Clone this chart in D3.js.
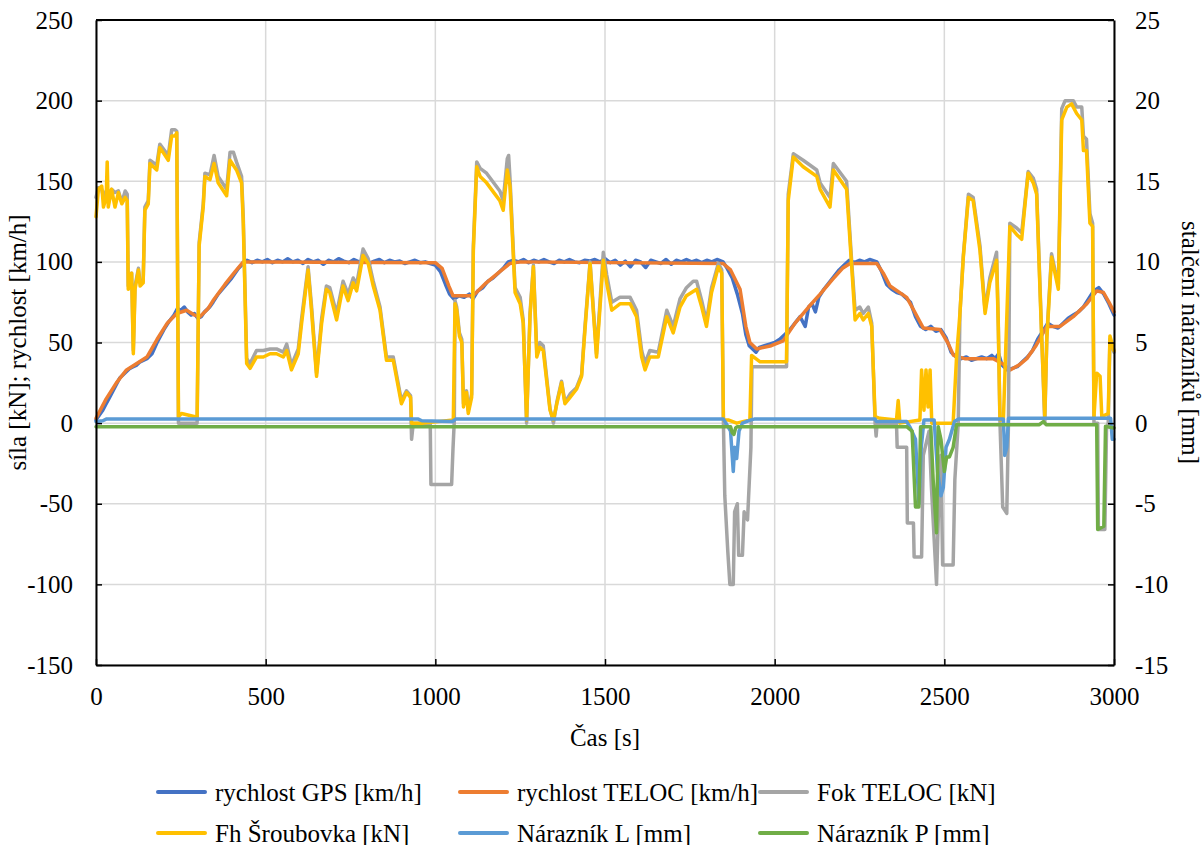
<!DOCTYPE html>
<html>
<head>
<meta charset="utf-8">
<script src="https://cdn.jsdelivr.net/npm/d3@7"></script>
<style>
html,body{margin:0;padding:0;background:#fff;}
svg{display:block;}
text{font-family:"Liberation Serif","Times New Roman",serif;fill:#000;}
</style>
</head>
<body>
<svg id="chart" width="1202" height="845"></svg>
<script>
// ---------- DATA (time [s], value) ----------
const xTicks = [0, 500, 1000, 1500, 2000, 2500, 3000];
const yLeftTicks = [-150, -100, -50, 0, 50, 100, 150, 200, 250];
const yRightTicks = [-15, -10, -5, 0, 5, 10, 15, 20, 25];

const seriesNames = ["rychlost GPS [km/h]", "rychlost TELOC [km/h]", "Fok TELOC [kN]",
                     "Fh Šroubovka [kN]", "Nárazník L [mm]", "Nárazník P [mm]"];
const seriesColors = ["#4472C4", "#ED7D31", "#A5A5A5", "#FFC000", "#5B9BD5", "#70AD47"];

const rychlostGPS = [[0,2],[10,5],[20,8],[30,12],[40,16],[50,20],[60,24],[70,28],[80,30],[90,32],[100,34],[110,35],[120,36],[130,38],[150,40],[165,43],[180,50],[200,58],[215,63],[230,67],[240,71],[250,70],[260,72],[270,69],[280,67],[290,68],[300,65],[310,66],[320,69],[335,72],[345,75],[360,80],[380,85],[400,90],[420,96],[434,99],[445,101],[460,99.5],[475,101],[490,100],[505,101.5],[520,99.5],[535,101],[550,100],[565,102],[580,100],[595,101],[610,99],[625,101.5],[640,100],[655,101],[670,98.5],[685,101],[700,100],[715,102],[730,100.5],[745,99.5],[760,101.5],[775,100],[790,101],[805,99],[820,100.5],[835,101.5],[850,99.5],[865,101],[880,100],[895,100.5],[910,99],[925,100],[940,101],[955,99.5],[970,100],[985,99],[1000,98],[1015,94],[1030,86],[1042,80],[1055,77],[1070,79],[1085,78],[1100,80],[1111,77],[1125,82],[1140,84],[1155,88],[1170,90],[1185,93],[1200,96],[1215,100],[1230,101],[1245,100],[1260,101.5],[1275,99.5],[1290,101],[1305,100],[1320,101.5],[1335,100],[1350,99],[1365,101],[1380,100],[1395,101.5],[1410,100],[1425,99.5],[1440,101],[1455,100.5],[1470,101.5],[1485,100],[1500,102],[1515,99.5],[1530,101],[1545,98],[1560,100.5],[1575,97],[1590,101],[1605,100],[1620,96.5],[1635,101],[1650,100],[1665,99],[1680,101.5],[1695,98.5],[1710,101],[1725,100],[1740,101.5],[1755,100],[1770,101],[1785,99.5],[1800,101],[1815,100],[1830,101.5],[1848,100],[1860,96],[1875,90],[1890,80],[1905,68],[1915,55],[1925,48],[1935,46],[1945,44],[1955,47],[1970,48],[1985,49],[2000,50],[2015,52],[2030,55],[2045,58],[2060,62],[2075,66],[2090,60],[2100,72],[2110,74],[2120,69],[2130,78],[2145,83],[2160,87],[2175,91],[2190,95],[2205,98],[2220,101],[2235,99.5],[2250,101],[2265,100],[2280,101.5],[2301,100],[2315,94],[2330,86],[2345,83],[2360,81],[2375,80],[2390,77],[2400,75],[2415,66],[2430,60],[2445,58],[2460,60],[2475,57],[2490,58],[2505,53],[2520,44],[2535,41],[2550,40],[2565,41],[2580,39],[2595,40],[2610,41],[2625,40],[2640,42],[2650,40],[2660,43],[2670,36],[2685,33],[2700,34],[2715,35],[2730,38],[2745,41],[2760,45],[2775,52],[2790,57],[2805,62],[2820,60],[2835,59],[2850,62],[2865,65],[2880,67],[2895,69],[2910,72],[2925,77],[2940,82],[2955,84],[2970,80],[2985,74],[3000,67]];

const rychlostTELOC = [[0,3],[30,15],[60,25],[90,33],[120,37],[150,41],[180,52],[210,62],[238,68],[267,70],[290,67],[306,66],[330,71],[345,76],[380,86],[410,94],[434,100],[500,100],[1000,99.5],[1020,96],[1040,85],[1052,79],[1080,79],[1111,79],[1150,87],[1190,94],[1220,99],[1250,100],[1848,99],[1870,95],[1898,83],[1915,60],[1927,50],[1947,46],[1990,48],[2025,51],[2060,62],[2100,72],[2134,80],[2170,89],[2200,96],[2222,99],[2301,99],[2320,93],[2340,85],[2389,78],[2410,70],[2438,59],[2487,58],[2510,50],[2527,42],[2560,40],[2644,40],[2670,37],[2694,33],[2720,36],[2743,40],[2770,48],[2802,60],[2841,60],[2880,66],[2920,74],[2949,82],[2969,81],[2985,75],[3000,69]];

const fokTELOC = [[0,140],[7,146],[17,145],[22,140],[30,144],[36,142],[46,145],[56,143],[66,144],[76,137],[86,144],[92,142],[95,85],[105,93],[110,45],[115,85],[125,96],[130,87],[139,88],[144,134],[154,138],[159,163],[179,160],[188,173],[213,166],[223,182],[233,182],[238,181],[243,0],[298,0],[304,112],[316,136],[321,155],[336,154],[348,166],[360,153],[385,145],[395,168],[405,168],[414,162],[429,153],[434,128],[444,40],[454,37],[473,45],[493,45],[513,46],[532,46],[552,44],[562,49],[576,36],[596,46],[606,65],[625,97],[635,73],[650,31],[665,65],[679,85],[689,84],[709,68],[728,88],[743,80],[758,90],[768,86],[787,108],[802,102],[817,88],[837,72],[856,41],[876,41],[900,14],[915,20],[927,17],[930,-10],[935,0],[985,0],[987,-38],[1048,-38],[1052,-16],[1056,2],[1058,76],[1063,72],[1071,56],[1078,52],[1083,12],[1092,20],[1097,8],[1107,18],[1112,110],[1122,162],[1132,158],[1151,155],[1190,144],[1200,138],[1212,164],[1216,166],[1220,152],[1235,84],[1250,78],[1259,64],[1269,0],[1279,68],[1289,98],[1299,44],[1308,50],[1318,48],[1338,9],[1348,0],[1358,13],[1372,26],[1382,13],[1397,18],[1416,22],[1431,30],[1441,60],[1456,100],[1466,70],[1475,43],[1495,106],[1505,92],[1520,75],[1544,78],[1574,78],[1593,70],[1608,45],[1618,37],[1632,45],[1657,44],[1682,70],[1701,60],[1721,77],[1740,84],[1760,88],[1770,88],[1785,76],[1799,63],[1814,84],[1834,99],[1844,95],[1849,0],[1853,-45],[1862,-80],[1868,-100],[1878,-100],[1882,-55],[1890,-50],[1894,-82],[1905,-82],[1910,-55],[1920,-60],[1930,-15],[1933,35],[2035,35],[2040,142],[2055,167],[2084,163],[2124,157],[2134,149],[2163,140],[2173,161],[2212,150],[2227,100],[2237,70],[2251,72],[2261,68],[2276,72],[2286,62],[2296,0],[2299,-8],[2302,0],[2359,0],[2361,-15],[2389,-15],[2391,-62],[2409,-62],[2411,-83],[2433,-83],[2438,-20],[2455,-5],[2462,-40],[2477,-100],[2482,-60],[2490,-20],[2495,-88],[2526,-88],[2531,-35],[2541,0],[2546,68],[2556,104],[2571,142],[2585,140],[2605,110],[2620,70],[2634,90],[2654,106],[2659,62],[2664,0],[2672,-52],[2684,-56],[2689,0],[2693,124],[2713,121],[2728,118],[2737,136],[2747,156],[2762,152],[2772,145],[2787,54],[2796,0],[2802,54],[2816,105],[2826,95],[2836,86],[2846,195],[2856,200],[2880,200],[2890,196],[2905,196],[2910,178],[2919,176],[2929,130],[2937,124],[2941,0],[2952,0],[2954,-66],[2973,-66],[2978,-4],[2983,0],[2988,52],[3000,44]];

const fhSroubovka = [[0,128],[7,145],[17,147],[22,134],[30,140],[33,162],[36,134],[46,145],[56,134],[66,143],[76,136],[86,140],[92,138],[95,83],[105,93],[110,43],[115,83],[125,95],[130,85],[139,87],[144,132],[154,136],[159,161],[179,157],[188,171],[213,163],[223,178],[233,178],[238,180],[243,4],[252,6],[292,4],[298,4],[304,110],[316,134],[321,153],[336,151],[348,161],[360,149],[385,141],[395,163],[414,157],[429,149],[434,124],[444,37],[454,34],[473,41],[493,41],[513,43],[532,43],[552,41],[562,45],[576,33],[596,43],[606,62],[625,95],[635,70],[650,29],[665,62],[679,83],[689,81],[709,64],[728,85],[743,76],[758,87],[768,82],[787,104],[802,99],[817,85],[837,70],[856,39],[876,39],[900,12],[915,19],[927,16],[930,0],[964,0],[1053,2],[1058,74],[1063,70],[1071,54],[1078,50],[1083,10],[1092,19],[1097,6],[1107,16],[1112,107],[1122,159],[1132,153],[1151,149],[1190,138],[1200,132],[1212,157],[1220,147],[1235,81],[1250,74],[1259,62],[1269,2],[1279,66],[1289,97],[1299,41],[1308,47],[1318,45],[1338,8],[1348,2],[1358,12],[1372,25],[1382,12],[1397,16],[1416,21],[1431,29],[1441,58],[1456,99],[1466,68],[1475,41],[1495,101],[1505,87],[1520,70],[1544,74],[1574,74],[1593,66],[1608,41],[1618,33],[1632,41],[1657,41],[1682,66],[1701,56],[1721,72],[1740,79],[1770,83],[1785,72],[1799,60],[1814,81],[1834,97],[1844,93],[1849,2],[1863,2],[1888,0],[1927,2],[1932,42],[1957,38],[2035,38],[2040,138],[2055,165],[2084,159],[2124,153],[2134,145],[2163,134],[2173,157],[2212,145],[2227,97],[2237,64],[2251,68],[2261,64],[2276,68],[2286,60],[2296,4],[2310,3],[2359,2],[2364,14],[2369,0],[2428,2],[2433,33],[2440,8],[2446,33],[2452,10],[2458,33],[2463,0],[2526,0],[2536,41],[2546,68],[2556,103],[2571,140],[2585,138],[2605,107],[2620,68],[2634,87],[2654,101],[2659,60],[2664,2],[2674,2],[2693,122],[2713,117],[2728,114],[2737,134],[2747,155],[2762,149],[2772,142],[2787,52],[2796,4],[2802,52],[2816,103],[2826,93],[2836,83],[2846,188],[2861,196],[2875,198],[2890,192],[2905,188],[2910,169],[2919,169],[2929,124],[2937,122],[2941,4],[2949,31],[2959,29],[2964,4],[2983,6],[2988,54],[3000,45]];

// bumper values in mm (right axis)
const naraznikL = [[0,0.1],[20,0.15],[30,0.25],[950,0.25],[960,0.15],[1050,0.1],[1060,0.25],[1849,0.25],[1855,0.05],[1870,-0.5],[1878,-3.0],[1882,-1.5],[1888,-2.2],[1895,-0.5],[1905,0.0],[1930,0.2],[1940,0.25],[2296,0.25],[2300,0.1],[2389,0.1],[2400,-0.3],[2415,-1.0],[2425,-5.0],[2432,-1.5],[2440,0.2],[2470,0.2],[2480,-3.0],[2490,-4.5],[2497,-4.0],[2505,-1.5],[2515,-1.0],[2530,0.1],[2541,0.25],[2674,0.25],[2678,-2.0],[2684,-1.5],[2689,0.3],[2990,0.3],[2995,-1.0],[3000,-1.0]];

const naraznikP = [[0,-0.22],[1870,-0.22],[1875,-0.6],[1880,-0.7],[1885,-0.3],[1890,-0.22],[2389,-0.22],[2405,-0.5],[2415,-5.2],[2425,-5.2],[2430,-0.22],[2460,-0.22],[2467,-3.5],[2477,-6.8],[2482,-0.22],[2490,-1.0],[2500,-3.0],[2507,-2.1],[2515,-2.1],[2526,-1.5],[2536,-0.1],[2780,-0.1],[2792,0.1],[2800,-0.1],[2949,-0.1],[2952,-6.6],[2970,-6.4],[2975,-0.2],[3000,-0.3]];

// ---------- CHART ----------
const svg = d3.select("#chart");
const L = 96, R = 1114, T = 20, B = 665;
const FONT = 25;

const x = d3.scaleLinear().domain([0, 3000]).range([L, R]);
const yL = d3.scaleLinear().domain([-150, 250]).range([B, T]);
const yR = d3.scaleLinear().domain([-15, 25]).range([B, T]);

// gridlines
const grid = svg.append("g");
grid.selectAll(".gh").data(yLeftTicks).join("line")
  .attr("x1", L).attr("x2", R).attr("y1", d => yL(d)).attr("y2", d => yL(d))
  .attr("stroke", "#d9d9d9").attr("stroke-width", 1.5);
grid.selectAll(".gv").data(xTicks).join("line")
  .attr("y1", T).attr("y2", B).attr("x1", d => x(d)).attr("x2", d => x(d))
  .attr("stroke", "#d9d9d9").attr("stroke-width", 1.5);

// series
const lineL = d3.line().x(d => x(d[0])).y(d => yL(d[1]));
const lineR = d3.line().x(d => x(d[0])).y(d => yR(d[1]));
const plot = svg.append("g");
const seriesData = [rychlostGPS, rychlostTELOC, fokTELOC, fhSroubovka, naraznikL, naraznikP];
seriesData.forEach((data, i) => {
  plot.append("path")
    .attr("d", i >= 4 ? lineR(data) : lineL(data))
    .attr("fill", "none")
    .attr("stroke", seriesColors[i])
    .attr("stroke-width", 3.5)
    .attr("stroke-linejoin", "round")
    .attr("stroke-linecap", "round");
});

// axes
function styleAxis(g) {
  g.select(".domain").attr("stroke", "#000").attr("stroke-width", 2);
  g.selectAll(".tick line").attr("stroke", "#000").attr("stroke-width", 1.5);
  g.selectAll(".tick text").attr("font-size", FONT).attr("font-family", "Liberation Serif, serif").attr("fill", "#000");
}
svg.append("g").attr("transform", `translate(${L},0)`)
  .call(d3.axisLeft(yL).tickValues(yLeftTicks).tickFormat(d => String(d)).tickSizeInner(-6).tickSizeOuter(0).tickPadding(23))
  .call(styleAxis);
svg.append("g").attr("transform", `translate(${R},0)`)
  .call(d3.axisRight(yR).tickValues(yRightTicks).tickFormat(d => String(d)).tickSizeInner(-6).tickSizeOuter(0).tickPadding(21))
  .call(styleAxis);
svg.append("g").attr("transform", `translate(0,${B})`)
  .call(d3.axisBottom(x).tickValues(xTicks).tickFormat(d => String(d)).tickSizeInner(-6).tickSizeOuter(0).tickPadding(22))
  .call(styleAxis);
// top border
svg.append("line").attr("x1", L).attr("x2", R).attr("y1", T).attr("y2", T)
  .attr("stroke", "#000").attr("stroke-width", 2);

// axis titles
svg.append("text").attr("x", (L + R) / 2).attr("y", 746)
  .attr("text-anchor", "middle").attr("font-size", FONT).text("Čas [s]");
svg.append("text").attr("transform", `translate(26,${(T + B) / 2}) rotate(-90)`)
  .attr("text-anchor", "middle").attr("font-size", FONT).text("síla [kN]; rychlost [km/h]");
svg.append("text").attr("transform", `translate(1182,${(T + B) / 2}) rotate(90)`)
  .attr("text-anchor", "middle").attr("font-size", FONT).text("stalčení nárazníků [mm]");

// legend
const legX = [158, 460, 760];
const legY = [792, 833];
seriesNames.forEach((name, i) => {
  const cx = legX[i % 3], cy = legY[Math.floor(i / 3)];
  svg.append("line").attr("x1", cx).attr("x2", cx + 47).attr("y1", cy).attr("y2", cy)
    .attr("stroke", seriesColors[i]).attr("stroke-width", 4).attr("stroke-linecap", "round");
  svg.append("text").attr("x", cx + 57).attr("y", cy).attr("dy", "0.35em")
    .attr("font-size", FONT).text(name);
});
</script>
</body>
</html>
